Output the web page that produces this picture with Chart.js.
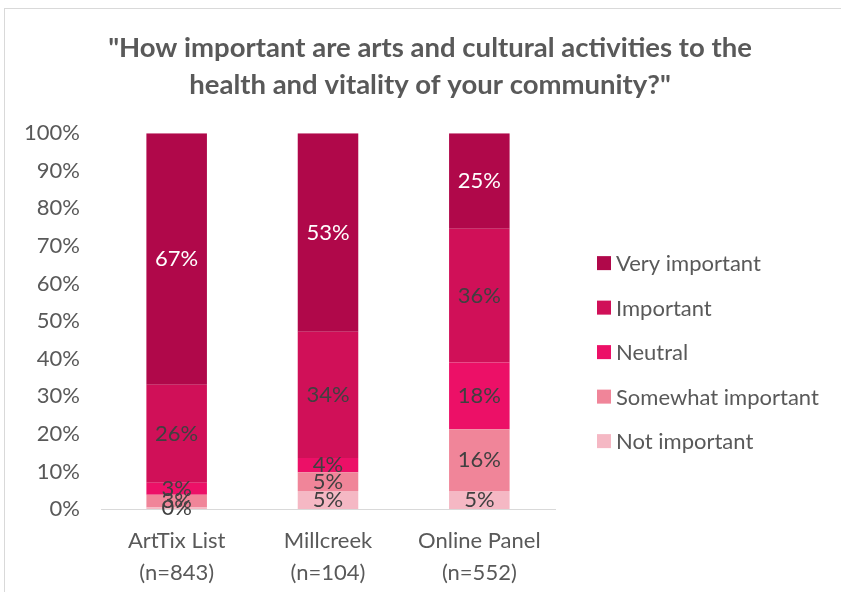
<!DOCTYPE html>
<html>
<head>
<meta charset="utf-8">
<script src="https://cdn.jsdelivr.net/npm/chart.js@4"></script>
<style>
  html, body { margin: 0; padding: 0; background: #fff; }
  #wrap { position: absolute; left: 0; top: 0; width: 841px; height: 592px; }
</style>
</head>
<body>
<div id="wrap"><canvas id="importanceChart" width="841" height="592"></canvas></div>
<script>
const groups = [['ArtTix List', '(n=843)'], ['Millcreek', '(n=104)'], ['Online Panel', '(n=552)']];
const notImportant = [0.4, 4.8, 4.8];
const somewhatImportant = [3.4, 5.0, 16.4];
const neutral = [3.2, 3.8, 17.8];
const important = [26.1, 33.6, 35.6];
const veryImportant = [66.9, 52.8, 25.4];
const yTicks = [0, 10, 20, 30, 40, 50, 60, 70, 80, 90, 100];

const FONT = 'Lato, "Open Sans", sans-serif';
const GREY = '#595959';

// writes each segment's share in the middle of its bar piece
const segmentLabels = {
  id: 'segmentLabels',
  afterDatasetsDraw(chart) {
    const ctx = chart.ctx;
    ctx.save();
    ctx.font = '22px ' + FONT;
    ctx.textAlign = 'center';
    ctx.textBaseline = 'middle';
    chart.data.datasets.forEach((ds, i) => {
      const meta = chart.getDatasetMeta(i);
      meta.data.forEach((bar, j) => {
        const p = bar.getCenterPoint();
        ctx.fillStyle = ds.labelColor;
        ctx.fillText(Math.round(ds.data[j]) + '%', p.x, p.y);
      });
    });
    ctx.restore();
  }
};

// legend in the right-hand margin, top series first
const sideLegend = {
  id: 'sideLegend',
  afterDraw(chart) {
    const ctx = chart.ctx;
    const x = chart.chartArea.right + 42;
    const mid = (chart.chartArea.top + chart.chartArea.bottom) / 2 + 31;
    const step = 44.5;
    const items = chart.data.datasets.slice().reverse();
    ctx.save();
    ctx.font = '22px ' + FONT;
    ctx.textBaseline = 'middle';
    items.forEach((ds, k) => {
      const y = mid + (k - (items.length - 1) / 2) * step;
      ctx.fillStyle = ds.backgroundColor;
      ctx.fillRect(x, y - 7, 14, 14);
      ctx.fillStyle = GREY;
      ctx.fillText(ds.label, x + 19, y + 1);
    });
    ctx.restore();
  }
};

// thin frame around the whole chart
const frame = {
  id: 'frame',
  beforeDraw(chart) {
    const ctx = chart.ctx;
    ctx.save();
    ctx.strokeStyle = '#d9d9d9';
    ctx.lineWidth = 1;
    ctx.strokeRect(4.5, 8.5, 900, 700);
    ctx.restore();
  }
};

const ctx = document.getElementById('importanceChart').getContext('2d');
new Chart(ctx, {
  type: 'bar',
  data: {
    labels: groups,
    datasets: [
      { label: 'Not important', data: notImportant, backgroundColor: '#f5b8c4', labelColor: '#404040' },
      { label: 'Somewhat important', data: somewhatImportant, backgroundColor: '#f08599', labelColor: '#404040' },
      { label: 'Neutral', data: neutral, backgroundColor: '#ec1067', labelColor: '#404040' },
      { label: 'Important', data: important, backgroundColor: '#d01058', labelColor: '#404040' },
      { label: 'Very important', data: veryImportant, backgroundColor: '#b0084a', labelColor: '#ffffff' }
    ]
  },
  options: {
    responsive: false,
    animation: false,
    barPercentage: 0.4,
    categoryPercentage: 1,
    layout: { padding: { left: 19, right: 0, top: 25.5, bottom: 0 } },
    plugins: {
      title: {
        display: true,
        text: ['"How important are arts and cultural activities to the', 'health and vitality of your community?"'],
        color: GREY,
        font: { family: FONT, size: 27.5, weight: 'bold', lineHeight: 1.35 },
        padding: { top: 4, bottom: 29.5 }
      },
      legend: { display: false },
      tooltip: { enabled: false }
    },
    scales: {
      x: {
        stacked: true,
        grid: { display: false },
        border: { display: true, color: '#d9d9d9' },
        afterFit(axis) { axis.height = 83; },
        ticks: { color: GREY, font: { family: FONT, size: 22, lineHeight: 1.45 }, padding: 8 }
      },
      y: {
        stacked: true,
        min: 0,
        max: 100,
        grid: { display: false },
        border: { display: false },
        afterFit(axis) { axis.width = 82; },
        afterBuildTicks(axis) { axis.ticks = yTicks.map(v => ({ value: v })); },
        ticks: { color: GREY, font: { family: FONT, size: 22 }, padding: 13, callback: v => v + '%' }
      },
      // empty right-hand axis that reserves room for the legend
      legendRoom: {
        position: 'right',
        grid: { display: false },
        border: { display: false },
        ticks: { display: false },
        afterFit(axis) { axis.width = 286; }
      }
    }
  },
  plugins: [segmentLabels, sideLegend, frame]
});
</script>
</body>
</html>
